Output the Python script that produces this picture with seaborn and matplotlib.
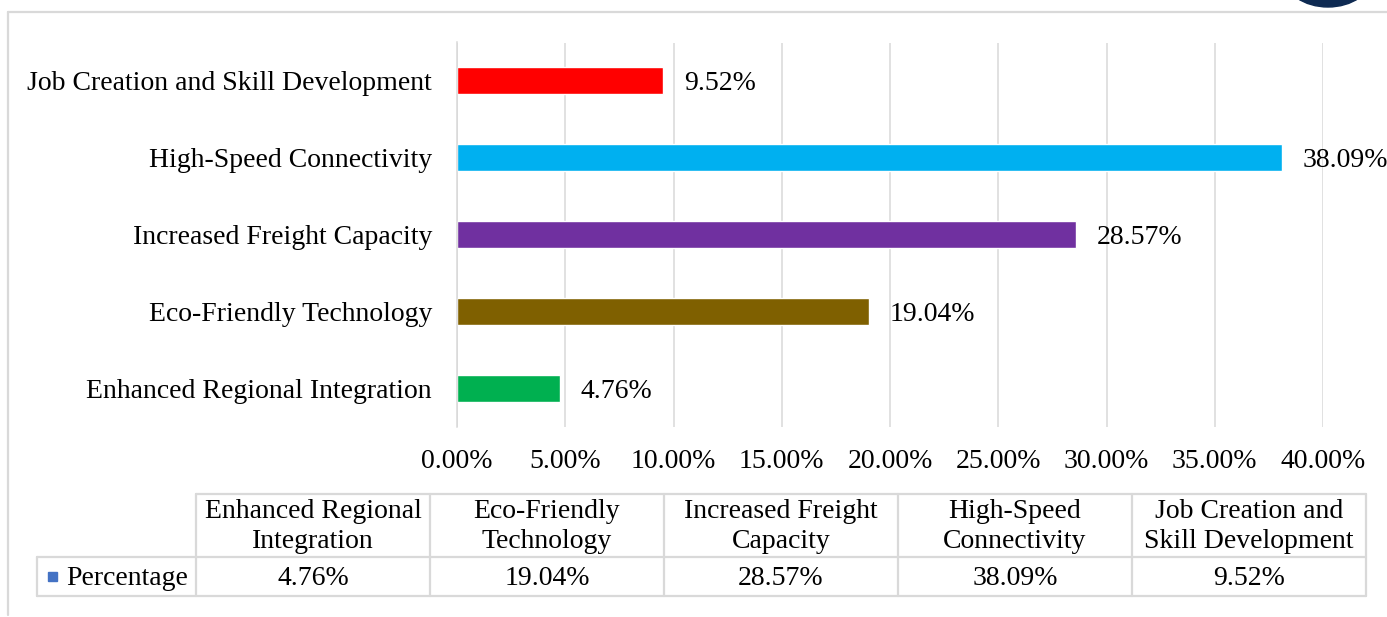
import textwrap
import numpy as np
import pandas as pd
import matplotlib
matplotlib.use("Agg")
import matplotlib.pyplot as plt
from matplotlib.patches import Ellipse, Rectangle
import seaborn as sns

# Survey results: share of respondents per perceived benefit
categories = [
    "Enhanced Regional Integration",
    "Eco-Friendly Technology",
    "Increased Freight Capacity",
    "High-Speed Connectivity",
    "Job Creation and Skill Development",
]
percentages = [4.76, 19.04, 28.57, 38.09, 9.52]
bar_colors = ["#00B050", "#7F6000", "#7030A0", "#00B0F0", "#FF0000"]
series_name = "Percentage"
x_ticks = [0, 5, 10, 15, 20, 25, 30, 35, 40]

W, H = 1387, 617
GRID = "#d9d9d9"

sns.set_theme(style="white")
plt.rcParams["font.family"] = ["Liberation Serif", "DejaVu Serif"]
plt.rcParams["font.size"] = 20
plt.rcParams["text.color"] = "black"

df = pd.DataFrame({"category": categories, "value": percentages})
palette = dict(zip(categories, bar_colors))

fig = plt.figure(figsize=(W / 100, H / 100), dpi=100)
fig.patch.set_facecolor("white")

# main bar axes (pixel box 457..1323 horizontally, 42.5..426.5 vertically)
ax = fig.add_axes([457 / W, (H - 426.5) / H, (1323 - 457) / W, 384 / H])
sns.barplot(data=df, x="value", y="category", hue="category",
            order=categories[::-1], hue_order=categories[::-1],
            palette=palette, width=0.35, saturation=1, legend=False, ax=ax)

ax.set_xlim(0, 40)
ax.set_ylim(4.5, -0.5)
ax.set_xticks(x_ticks)
ax.set_xticklabels([f"{t:.2f}%" for t in x_ticks], fontsize=20)
ax.set_xlabel("")
ax.set_ylabel("")
ax.tick_params(axis="y", which="major", length=0, pad=18, labelsize=20, labelcolor="black")
ax.tick_params(axis="x", length=0, pad=16, labelcolor="black")
ax.set_yticks(np.arange(-0.5, 5, 1), minor=True)
ax.tick_params(axis="y", which="minor", length=5.5, width=1.1, color=GRID, direction="out")
ax.xaxis.grid(True, color=GRID, linewidth=1.1)
ax.set_axisbelow(True)
for side in ["top", "right", "bottom"]:
    ax.spines[side].set_visible(False)
ax.spines["left"].set_color(GRID)
ax.spines["left"].set_linewidth(1.1)

for cont in ax.containers:
    labels = ax.bar_label(cont, fmt="{:.2f}%", padding=15, fontsize=20, color="black")
    for t in labels:
        t.set_va("center_baseline")

# overlay in pixel coordinates for the frame and the data table
ov = fig.add_axes([0, 0, 1, 1])
ov.set_xlim(0, W)
ov.set_ylim(H, 0)
ov.axis("off")
ov.patch.set_alpha(0)

# outer frame lines
ov.plot([8, W], [12, 12], color=GRID, lw=1.6)
ov.plot([8, 8], [12, 615], color=GRID, lw=1.6)
ov.add_patch(Ellipse((1328, -24), 88, 62, color="#0e2a52"))

# data table
col_edges = np.linspace(196, 1366, len(categories) + 1)
top, mid, bot = 494, 557, 596
lab_left = 37
lw_t = 1.6
ov.plot([col_edges[0], col_edges[-1]], [top, top], color=GRID, lw=lw_t)
ov.plot([lab_left, col_edges[-1]], [mid, mid], color=GRID, lw=lw_t)
ov.plot([lab_left, col_edges[-1]], [bot, bot], color=GRID, lw=lw_t)
ov.plot([lab_left, lab_left], [mid, bot], color=GRID, lw=lw_t)
for xe in col_edges:
    ov.plot([xe, xe], [top, bot], color=GRID, lw=lw_t)

for i, (cat, val) in enumerate(zip(categories, percentages)):
    xc = (col_edges[i] + col_edges[i + 1]) / 2
    ov.text(xc, (top + mid) / 2 + 1, textwrap.fill(cat, 17, break_on_hyphens=False),
            ha="center", va="center", fontsize=20, linespacing=1.27, color="black")
    ov.text(xc, (mid + bot) / 2 + 2, f"{val:.2f}%", ha="center", va="center",
            fontsize=20, color="black")

ov.add_patch(Rectangle((48, 572), 9, 9, color="#4472C4"))
ov.text(66, (mid + bot) / 2 + 2, series_name, ha="left", va="center", fontsize=20,
        color="black")

fig.savefig("out.png", dpi=100, facecolor="white")
